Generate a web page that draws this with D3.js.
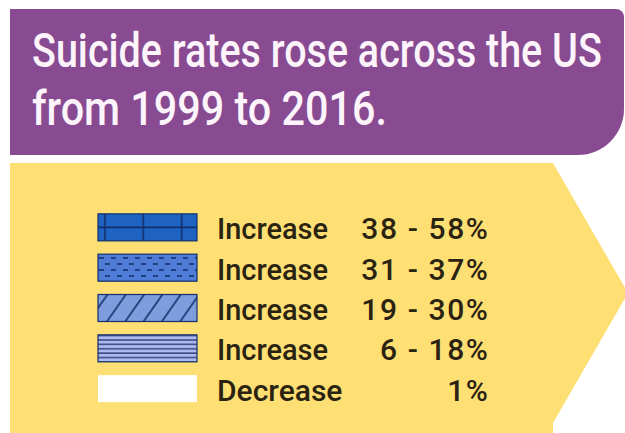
<!DOCTYPE html>
<html>
<head>
<meta charset="utf-8">
<script src="https://cdn.jsdelivr.net/npm/d3@7"></script>
<style>
  html, body { margin: 0; padding: 0; background: #ffffff; }
  svg { display: block; }
</style>
</head>
<body>
<div id="chart"></div>
<script>
// ---- data ----
const titleLines = ["Suicide rates rose across the US", "from 1999 to 2016."];
const categories = ["Increase", "Increase", "Increase", "Increase", "Decrease"];
const ranges = ["38 - 58%", "31 - 37%", "19 - 30%", "6 - 18%", "1%"];
const patternIds = ["brick", "dash", "diag", "hlines", "plain"];

const W = 625, H = 433;
const svg = d3.select("#chart").append("svg").attr("width", W).attr("height", H);
const defs = svg.append("defs");

const navy = "#12306b";

// brick pattern
const p1 = defs.append("pattern").attr("id", "brick").attr("patternUnits", "userSpaceOnUse")
  .attr("x", 98).attr("y", 0).attr("width", 38.4).attr("height", 500);
p1.append("rect").attr("width", 38.4).attr("height", 500).attr("fill", "#1f63c2");
p1.append("line").attr("x1", 6.9).attr("x2", 6.9).attr("y1", 0).attr("y2", 500)
  .attr("stroke", navy).attr("stroke-width", 1.6);

// dashed pattern
const p2 = defs.append("pattern").attr("id", "dash").attr("patternUnits", "userSpaceOnUse")
  .attr("x", 98).attr("y", 255).attr("width", 12).attr("height", 12);
p2.append("rect").attr("width", 12).attr("height", 12).attr("fill", "#4f7cd6");
p2.append("line").attr("x1", 1).attr("x2", 6).attr("y1", 3).attr("y2", 3)
  .attr("stroke", navy).attr("stroke-width", 1.6);
p2.append("line").attr("x1", 7).attr("x2", 12).attr("y1", 9).attr("y2", 9)
  .attr("stroke", navy).attr("stroke-width", 1.6);

// diagonal pattern
const p3 = defs.append("pattern").attr("id", "diag").attr("patternUnits", "userSpaceOnUse")
  .attr("width", 15).attr("height", 15).attr("patternTransform", "rotate(35)");
p3.append("rect").attr("width", 15).attr("height", 15).attr("fill", "#7f9ddc");
p3.append("line").attr("x1", 2).attr("x2", 2).attr("y1", 0).attr("y2", 15)
  .attr("stroke", navy).attr("stroke-width", 1.6);

// horizontal lines
const p4 = defs.append("pattern").attr("id", "hlines").attr("patternUnits", "userSpaceOnUse")
  .attr("x", 0).attr("y", 339).attr("width", 10).attr("height", 4.4);
p4.append("rect").attr("width", 10).attr("height", 4.4).attr("fill", "#aebcf1");
p4.append("line").attr("x1", 0).attr("x2", 10).attr("y1", 1).attr("y2", 1)
  .attr("stroke", "#3c4a86").attr("stroke-width", 1.6);

// ---- background shapes ----
const bx0 = 10, by0 = 9, bx1 = 624, by1 = 155, rTop = 8, rBot = 46;
const banner = d3.path();
banner.moveTo(bx0, by0);
banner.lineTo(bx1 - rTop, by0);
banner.arcTo(bx1, by0, bx1, by0 + rTop, rTop);
banner.lineTo(bx1, by1 - rBot);
banner.arcTo(bx1, by1, bx1 - rBot, by1, rBot);
banner.lineTo(bx0, by1);
banner.closePath();
svg.append("path").attr("d", banner.toString()).attr("fill", "#884b92");

const arrow = d3.path();
arrow.moveTo(10, 163);
arrow.lineTo(553, 163);
arrow.lineTo(628, 293);
arrow.lineTo(553, 423);
arrow.lineTo(553, 433);
arrow.lineTo(10, 433);
arrow.closePath();
svg.append("path").attr("d", arrow.toString()).attr("fill", "#fedf74");

// helper: squeeze text horizontally to a target width
function fitWidth(sel, x, yFn, widthFn) {
  sel.each(function (d, i) {
    const el = d3.select(this);
    const natural = this.getComputedTextLength();
    const sx = Math.min(1, widthFn(d, i) / natural);
    el.attr("transform", `translate(${x},${yFn(d, i)}) scale(${sx},1)`);
  });
}

// ---- title ----
const font = "Roboto, 'DejaVu Sans Condensed', sans-serif";
const titleY = d3.scaleLinear().domain([0, 1]).range([67, 125]);
const titleWidths = [570, 355];
const titles = svg.append("g").selectAll("text").data(titleLines).join("text")
  .attr("font-family", font)
  .attr("font-size", 49)
  .attr("font-weight", 500)
  .attr("fill", "#fdf4fb")
  .text(d => d);
fitWidth(titles, 32, (d, i) => titleY(i), (d, i) => titleWidths[i]);

// ---- legend ----
const y = d3.scaleBand().domain(d3.range(categories.length))
  .range([207, 409]).paddingInner(0.33).paddingOuter(0.17);

const rows = svg.append("g").selectAll("g").data(categories).join("g");

rows.append("rect")
  .attr("x", 98)
  .attr("y", (d, i) => y(i))
  .attr("width", 99)
  .attr("height", y.bandwidth())
  .attr("fill", (d, i) => patternIds[i] === "plain" ? "#ffffff" : `url(#${patternIds[i]})`)
  .attr("stroke", (d, i) => patternIds[i] === "plain" ? "none" : navy)
  .attr("stroke-width", 1.2);

rows.filter((d, i) => i === 0).append("line")
  .attr("x1", 98).attr("x2", 197)
  .attr("y1", y(0) + y.bandwidth() / 2).attr("y2", y(0) + y.bandwidth() / 2)
  .attr("stroke", navy).attr("stroke-width", 1.8);

const labels = rows.append("text")
  .attr("font-family", font)
  .attr("font-size", 30)
  .attr("font-weight", 500)
  .attr("fill", "#2b2312")
  .text(d => d);
fitWidth(labels, 217, (d, i) => y(i) + y.bandwidth() / 2 + 12, d => d === "Decrease" ? 128 : 111);

rows.append("text")
  .attr("x", 489.5)
  .attr("y", (d, i) => y(i) + y.bandwidth() / 2 + 12)
  .attr("text-anchor", "end")
  .attr("font-family", font)
  .attr("font-size", 30)
  .attr("font-weight", 500)
  .attr("letter-spacing", 1.6)
  .attr("fill", "#2b2312")
  .text((d, i) => ranges[i]);
</script>
</body>
</html>
